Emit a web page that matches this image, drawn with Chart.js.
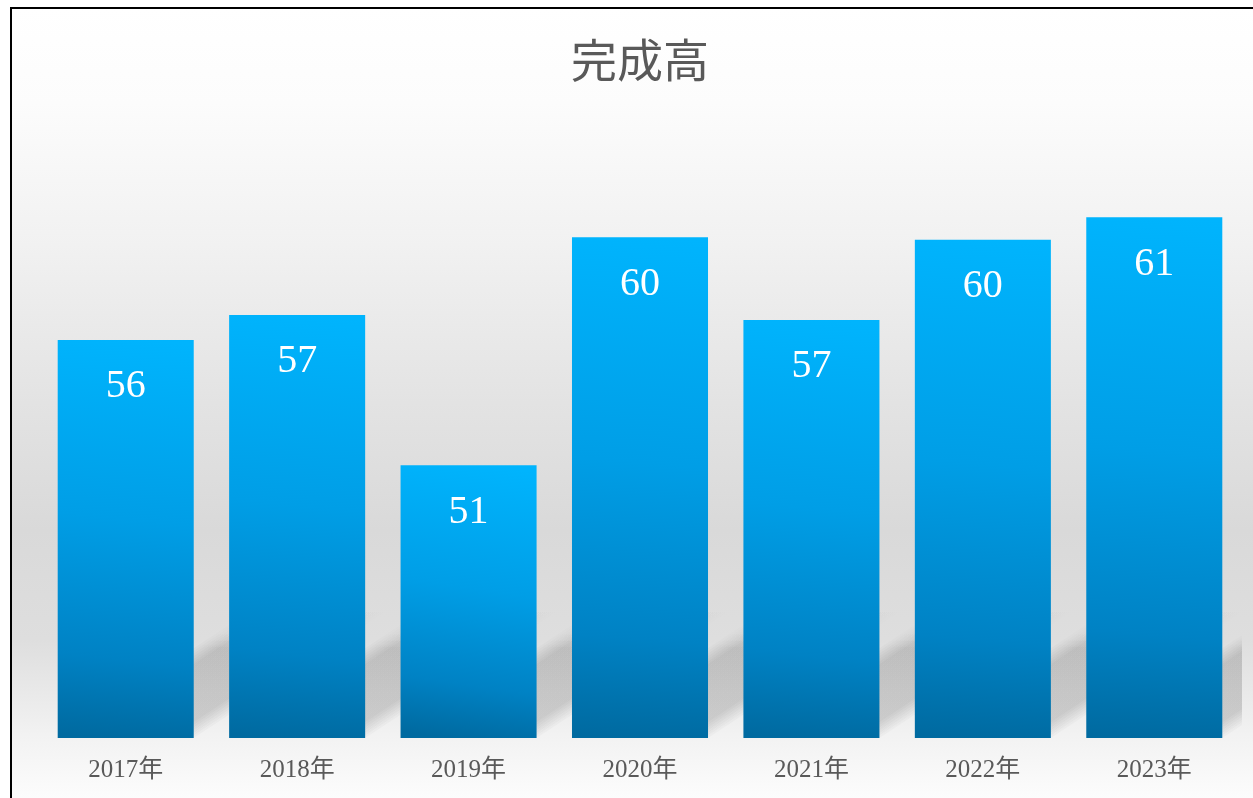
<!DOCTYPE html>
<html>
<head>
<meta charset="utf-8">
<script src="https://cdn.jsdelivr.net/npm/chart.js@4/dist/chart.umd.min.js"></script>
<style>
  html, body { margin: 0; padding: 0; background: #ffffff; overflow: hidden; }
  #wrap { position: absolute; left: 0; top: 0; width: 1253px; height: 798px; }
</style>
</head>
<body>
<div id="wrap"><canvas id="c" width="1253" height="798"></canvas></div>
<script>
// ---- data ----
const categories = ['2017年', '2018年', '2019年', '2020年', '2021年', '2022年', '2023年'];
const seriesName = '完成高';
const values = [55.9, 56.9, 50.9, 60.0, 56.7, 59.9, 60.8];
const axisMin = 40;
const axisMax = 65;

const bgPlugin = {
  id: 'bgPlugin',
  beforeDraw(chart) {
    const ctx = chart.ctx;
    const W = chart.width, H = chart.height;
    ctx.save();
    ctx.fillStyle = '#ffffff';
    ctx.fillRect(0, 0, W, H);
    const g = ctx.createLinearGradient(0, 8, 0, H);
    g.addColorStop(0.0, '#ffffff');
    g.addColorStop(0.12, '#fcfcfc');
    g.addColorStop(0.30, '#f1f1f1');
    g.addColorStop(0.50, '#e3e3e3');
    g.addColorStop(0.66, '#d9d9d9');
    g.addColorStop(0.80, '#dedede');
    g.addColorStop(0.92, '#f2f2f2');
    g.addColorStop(1.0, '#fcfcfc');
    ctx.fillStyle = g;
    ctx.fillRect(11, 8, W, H);
    ctx.strokeStyle = '#000000';
    ctx.lineWidth = 2;
    ctx.beginPath();
    ctx.moveTo(11, H + 5);
    ctx.lineTo(11, 8);
    ctx.lineTo(W + 5, 8);
    ctx.stroke();
    ctx.restore();
  }
};

const shadowPlugin = {
  id: 'shadowPlugin',
  beforeDatasetsDraw(chart) {
    const ctx = chart.ctx;
    const area = chart.chartArea;
    const ys = chart.scales.y;
    const meta = chart.getDatasetMeta(0);
    const B = ys.getPixelForValue(axisMin);
    ctx.save();
    ctx.beginPath();
    ctx.rect(area.left, area.top, area.right - area.left + 2, area.bottom - area.top - 1);
    ctx.clip();
    const slope = 0.66, dx = 200, hs = dx * slope;
    const layers = 7;
    const g = ctx.createLinearGradient(0, B - hs, 0, B);
    g.addColorStop(0, 'rgba(0,0,0,0)');
    g.addColorStop(0.22, 'rgba(0,0,0,0.012)');
    g.addColorStop(0.32, 'rgba(0,0,0,0.024)');
    g.addColorStop(1, 'rgba(0,0,0,0.024)');
    meta.data.forEach((bar, i) => {
      const p = bar.getProps(['x', 'width'], true);
      const w = (typeof p.width === 'number' && isFinite(p.width)) ? p.width : 136;
      const L = p.x - w / 2, R = p.x + w / 2;
      for (let k = 0; k < layers; k++) {
        const Lk = L + k * 4, Rk = R - k * 4;
        ctx.fillStyle = g;
        ctx.beginPath();
        ctx.moveTo(Lk, B);
        ctx.lineTo(Rk, B);
        ctx.lineTo(Rk + dx, B - hs);
        ctx.lineTo(Lk + dx, B - hs);
        ctx.closePath();
        ctx.fill();
      }
    });
    ctx.restore();
  }
};

const labelPlugin = {
  id: 'labelPlugin',
  afterDatasetsDraw(chart) {
    const ctx = chart.ctx;
    const meta = chart.getDatasetMeta(0);
    ctx.save();
    ctx.fillStyle = '#ffffff';
    ctx.font = '40px "Liberation Serif", "DejaVu Serif", serif';
    ctx.textAlign = 'center';
    ctx.textBaseline = 'middle';
    meta.data.forEach((bar, i) => {
      ctx.fillText(String(Math.round(values[i])), bar.x, bar.y + 47);
    });
    ctx.restore();
  }
};

function barFill(context) {
  const chart = context.chart;
  if (!chart.chartArea || context.type !== 'data') return '#0096dc';
  const ys = chart.scales.y, xs = chart.scales.x;
  if (!ys || !xs) return '#0096dc';
  const top = ys.getPixelForValue(values[context.dataIndex]);
  const bottom = ys.getPixelForValue(axisMin);
  const cx = xs.getPixelForValue(context.dataIndex);
  const g = chart.ctx.createLinearGradient(cx + 20, top, cx - 20, bottom);
  g.addColorStop(0, '#00b4fd');
  g.addColorStop(0.45, '#009ee6');
  g.addColorStop(0.8, '#0082c4');
  g.addColorStop(1, '#006aa0');
  return g;
}

new Chart(document.getElementById('c'), {
  type: 'bar',
  data: {
    labels: categories,
    datasets: [{
      label: seriesName,
      data: values,
      backgroundColor: barFill,
      borderWidth: 0,
      categoryPercentage: 1.0,
      barPercentage: 0.7935
    }]
  },
  options: {
    responsive: false,
    animation: false,
    layout: { padding: { left: 40, right: 13, top: 8, bottom: 13 } },
    plugins: {
      legend: { display: false },
      tooltip: { enabled: false },
      title: {
        display: true,
        text: seriesName,
        color: '#595959',
        font: { family: '"Noto Sans CJK JP", "Noto Sans CJK SC", sans-serif', size: 46, weight: 'normal', lineHeight: 1.2 },
        padding: { top: 24, bottom: 25 }
      }
    },
    scales: {
      x: {
        grid: { display: false, drawTicks: false },
        border: { display: false },
        afterFit(scale) { scale.height = 47; },
        ticks: {
          color: '#595959',
          padding: 17,
          font: { family: '"Liberation Serif", "Noto Sans CJK JP", serif', size: 25, lineHeight: 1.2 }
        }
      },
      y: {
        display: false,
        min: axisMin,
        max: axisMax
      }
    }
  },
  plugins: [bgPlugin, shadowPlugin, labelPlugin]
});
</script>
</body>
</html>
